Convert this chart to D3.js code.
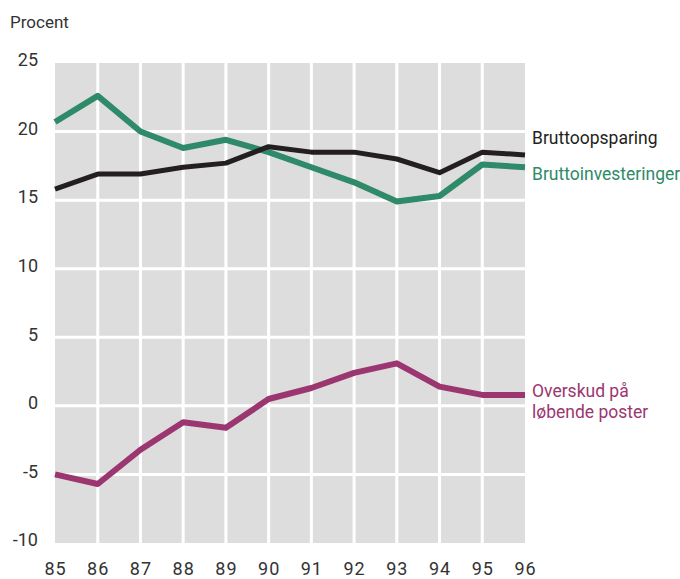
<!DOCTYPE html>
<html><head><meta charset="utf-8">
<script src="https://cdn.jsdelivr.net/npm/d3@7"></script>
<style>body{margin:0;background:#fff}svg{display:block}text{font-family:Roboto,"Noto Sans",sans-serif}</style>
</head><body>
<svg id="c" width="680" height="579"></svg>
<script>
const years = ["85","86","87","88","89","90","91","92","93","94","95","96"];
const bruttoopsparing = [15.8,16.9,16.9,17.4,17.7,18.9,18.5,18.5,18.0,17.0,18.5,18.3];
const bruttoinvesteringer = [20.7,22.6,20.0,18.8,19.4,18.5,17.4,16.3,14.9,15.3,17.6,17.4];
const overskud = [-5.0,-5.7,-3.2,-1.2,-1.6,0.5,1.3,2.4,3.1,1.4,0.8,0.8];
const yTicks = [25,20,15,10,5,0,-5,-10];

const svg = d3.select("#c");
const x = d3.scalePoint().domain(years).range([55, 525]);
const y = d3.scaleLinear().domain([-10, 25]).range([543, 63]);

// background
svg.append("rect").attr("x", x("85")).attr("y", y(25)).attr("width", x("96")-x("85")).attr("height", y(-10)-y(25)).attr("fill", "#dddddd");
// grid
const g = svg.append("g").attr("stroke", "#fff").attr("stroke-width", 3);
g.selectAll(".v").data(years.slice(1, -1)).join("line")
  .attr("x1", d => x(d)).attr("x2", d => x(d)).attr("y1", y(25)).attr("y2", y(-10));
g.selectAll(".h").data(yTicks.filter(v => v < 25 && v > -10)).join("line")
  .attr("x1", x("85")).attr("x2", x("96")).attr("y1", d => y(d)).attr("y2", d => y(d));

// axes labels
const yAxis = d3.axisLeft(y).tickValues(yTicks).tickSize(0).tickPadding(0).tickFormat(d => String(d));
const ya = svg.append("g").attr("transform", "translate(38,-3)").call(yAxis);
ya.select(".domain").remove();
ya.selectAll("text").attr("font-size", 18).attr("fill", "#333").attr("font-family", "Roboto");

const xAxis = d3.axisBottom(x).tickSize(0).tickPadding(0);
const xa = svg.append("g").attr("transform", "translate(0,562)").call(xAxis);
xa.select(".domain").remove();
xa.selectAll("text").attr("font-size", 18).attr("fill", "#333").attr("font-family", "Roboto").attr("letter-spacing", 1);

svg.append("text").attr("x", 10).attr("y", 28).attr("font-size", 17).attr("fill", "#333").text("Procent");

const line = d3.line().x((d, i) => x(years[i])).y(d => y(d));
const series = [
  {v: bruttoinvesteringer, c: "#2e8a68", w: 6},
  {v: bruttoopsparing, c: "#231f20", w: 5},
  {v: overskud, c: "#9c3670", w: 6}
];
svg.selectAll(".s").data(series).join("path")
  .attr("d", d => line(d.v)).attr("fill", "none").attr("stroke", d => d.c)
  .attr("stroke-width", d => d.w).attr("stroke-linejoin", "round");

const labels = [
  {t: "Bruttoopsparing", yv: 18.3, dy: -11, c: "#231f20"},
  {t: "Bruttoinvesteringer", yv: 17.4, dy: 13, c: "#2e8a68"},
  {t: "Overskud på", yv: 0.8, dy: 2, c: "#9c3670"},
  {t: "løbende poster", yv: 0.8, dy: 23, c: "#9c3670"}
];
svg.selectAll(".l").data(labels).join("text")
  .attr("x", x("96") + 7).attr("y", d => y(d.yv) + d.dy)
  .attr("font-size", 17.5).attr("fill", d => d.c).text(d => d.t);
</script>
</body></html>
